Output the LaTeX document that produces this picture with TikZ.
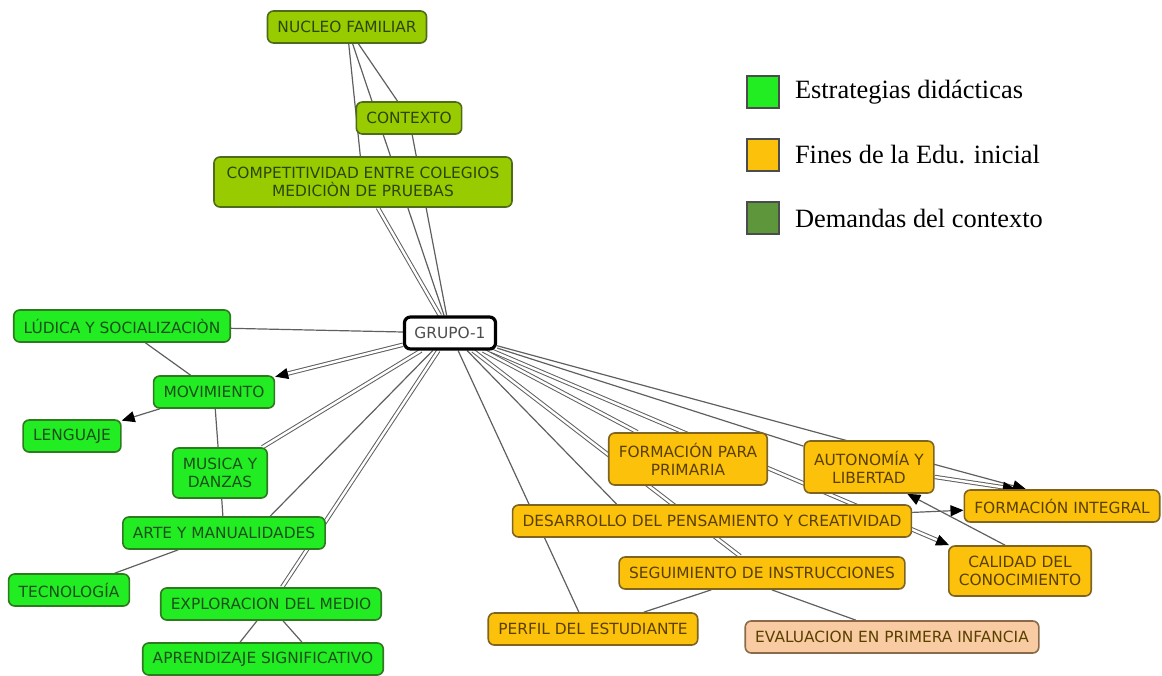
\documentclass[tikz,border=0pt]{standalone}
\usepackage{fontspec}
\setmainfont{Liberation Serif}
\newfontfamily\mapfont{DejaVu Sans}
\usetikzlibrary{arrows.meta,positioning,calc,backgrounds}

\definecolor{limefill}{HTML}{22EC22}
\definecolor{limeline}{HTML}{2E7A1E}
\definecolor{limetext}{HTML}{1B4F1B}
\definecolor{olivefill}{HTML}{99CC00}
\definecolor{oliveline}{HTML}{4D6B1A}
\definecolor{olivetext}{HTML}{2E450A}
\definecolor{goldfill}{HTML}{FCC10A}
\definecolor{goldline}{HTML}{7E6420}
\definecolor{goldtext}{HTML}{5A4000}
\definecolor{peachfill}{HTML}{F8CBA2}
\definecolor{peachline}{HTML}{8A6A4A}
\definecolor{linkgray}{HTML}{5F5F5F}
\definecolor{legdark}{HTML}{5E963C}

\tikzset{
  concept/.style={rounded corners=3pt, line width=0.8pt, font=\mapfont\fontsize{7.7}{9}\selectfont,
    align=center, inner xsep=5pt, inner ysep=2pt, minimum height=16pt},
  estrategia/.style={concept, fill=limefill, draw=limeline, text=limetext},
  contexto/.style={concept, fill=olivefill, draw=oliveline, text=olivetext},
  fin/.style={concept, fill=goldfill, draw=goldline, text=goldtext},
  evalbox/.style={concept, fill=peachfill, draw=peachline, text=goldtext},
  link/.style={draw=linkgray, line width=0.6pt},
  dbl/.style={link, double=white, double distance=1.2pt, line width=0.5pt},
  tip/.style={-{Triangle[length=6.5pt,width=5.5pt,color=black]}},
  legbox/.style={draw=black!70, line width=0.6pt, minimum size=16pt, inner sep=0pt},
  legtext/.style={inner sep=0pt, anchor=west, font=\fontsize{13.2}{15}\selectfont}
}

\begin{document}
\begin{tikzpicture}[x=0.5pt, y=-0.5pt]
    \useasboundingbox (0,0) rectangle (1162,675);

    % Centre
    \node[concept, fill=white, draw=black, line width=1.6pt, text=black!70] (grupo) at (450,333) {GRUPO-1};

    % Demandas del contexto
    \node[contexto] (nucleo) at (347,27) {NUCLEO FAMILIAR};
    \node[contexto] (ctx) at (409,118) {CONTEXTO};
    \node[contexto, minimum width=149pt, minimum height=25pt] (compet) at (363,182) {COMPETITIVIDAD ENTRE COLEGIOS\\MEDICIÒN DE PRUEBAS};

    % Estrategias didacticas
    \node[estrategia] (ludica) at (122,326) {LÚDICA Y SOCIALIZACIÒN};
    \node[estrategia] (movim) at (214,392) {MOVIMIENTO};
    \node[estrategia] (lengua) at (72,436) {LENGUAJE};
    \node[estrategia, minimum height=25pt] (musica) at (220,473) {MUSICA Y\\DANZAS};
    \node[estrategia] (arte) at (224,533) {ARTE Y MANUALIDADES};
    \node[estrategia] (tecno) at (69,590) {TECNOLOGÍA};
    \node[estrategia] (explor) at (271,604) {EXPLORACION DEL MEDIO};
    \node[estrategia] (aprend) at (263,659) {APRENDIZAJE SIGNIFICATIVO};

    % Fines de la educacion inicial
    \node[fin, minimum height=26pt] (primaria) at (688,459) {FORMACIÓN PARA\\PRIMARIA};
    \node[fin, minimum height=26pt] (auton) at (869,467) {AUTONOMÍA Y\\LIBERTAD};
    \node[fin] (integral) at (1062,506) {FORMACIÓN INTEGRAL};
    \node[fin] (desarrollo) at (712,521) {DESARROLLO DEL PENSAMIENTO Y CREATIVIDAD};
    \node[fin, minimum height=25pt] (calidad) at (1020,571) {CALIDAD DEL\\CONOCIMIENTO};
    \node[fin] (seguim) at (762,573) {SEGUIMIENTO DE INSTRUCCIONES};
    \node[fin] (perfil) at (593,629) {PERFIL DEL ESTUDIANTE};
    \node[evalbox] (evalua) at (892,637) {EVALUACION EN PRIMERA INFANCIA};

    % Links
    \begin{scope}[on background layer]
        \draw[link] (nucleo) -- (compet);
        \draw[link] (nucleo) -- (grupo);
        \draw[link] (nucleo) -- (ctx);
        \draw[link] (ctx) -- (grupo);
        \draw[dbl] (compet) -- (grupo);

        \draw[link] (ludica) -- (grupo);
        \draw[link] (ludica) -- (movim);
        \draw[dbl, tip] (grupo) -- (movim);
        \draw[link, tip] (movim) -- (lengua);
        \draw[link] (movim) -- (musica);
        \draw[dbl] (grupo) -- (musica);
        \draw[link] (musica) -- (arte);
        \draw[link] (grupo) -- (arte.20);
        \draw[link] (arte) -- (tecno);
        \draw[dbl] (grupo) -- (explor);
        \draw[link] ($(explor.south)+(-14,0)$) -- ($(aprend.north)+(-23,0)$);
        \draw[link] ($(explor.south)+(12,0)$) -- ($(aprend.north)+(39,0)$);

        \draw[link] (grupo) -- (perfil.130);
        \draw[link] (grupo) -- (desarrollo.170);
        \draw[dbl] (grupo) -- (seguim);
        \draw[dbl] (grupo) -- (primaria);
        \draw[link] (grupo) -- (auton);
        \draw[link, tip] (grupo) -- (integral.155);
        \draw[dbl, tip] (grupo) -- (calidad.160);
        \draw[dbl, tip] (auton) -- (integral.160);
        \draw[link, tip] (desarrollo) -- (integral);
        \draw[link, tip] (calidad.120) -- (auton.-35);
        \draw[link] (seguim) -- (perfil);
        \draw[link] (seguim.-60) -- (evalua.155);
    \end{scope}

    % Legend
    \node[legbox, fill=limefill] (lg1) at (763,92) {};
    \node[legtext, right=7.5pt of lg1] (lt1) {Estrategias didácticas};
    \node[legbox, fill=goldfill] (lg2) at (763,155) {};
    \node[legtext, right=7.5pt of lg2] (lt2) {Fines de la Edu. inicial};
    \node[legbox, fill=legdark] (lg3) at (763,218) {};
    \node[legtext, right=7.5pt of lg3] (lt3) {Demandas del contexto};
\end{tikzpicture}
\end{document}
